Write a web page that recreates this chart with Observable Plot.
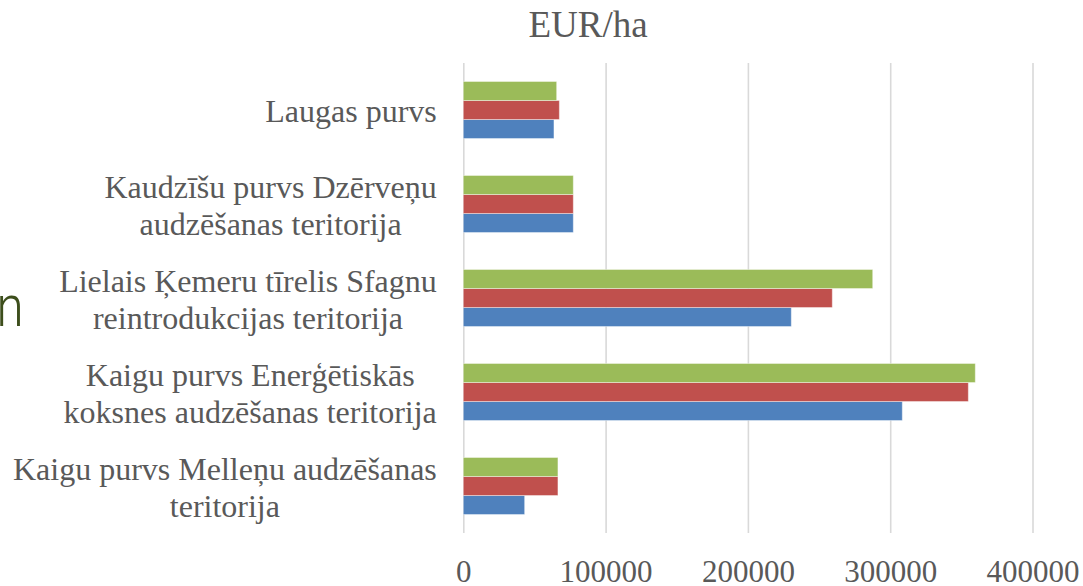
<!DOCTYPE html>
<html>
<head>
<meta charset="utf-8">
<script src="https://cdn.jsdelivr.net/npm/d3@7"></script>
<script src="https://cdn.jsdelivr.net/npm/@observablehq/plot@0.6"></script>
<style>
  html, body { margin: 0; padding: 0; background: #fff; }
  #wrap { position: relative; width: 1083px; height: 586px; overflow: hidden; background: #fff; }
  #title { position: relative; height: 50px; }
  #title span { position: absolute; left: 438px; width: 300px; top: 6px; text-align: center;
    font-family: "Liberation Serif", "Times New Roman", serif; font-size: 37px; line-height: 37px; color: #595959; }
  #chart svg { display: block; }
  #stray { position: absolute; left: 0; top: 0; }
</style>
</head>
<body>
<div id="wrap">
  <div id="title"><span>EUR/ha</span></div>
  <div id="chart"></div>
  <svg id="stray" width="40" height="586"><text x="-4" y="326" font-family="Roboto, 'DejaVu Sans', sans-serif" font-weight="300" font-size="58" fill="#3d4e1c" transform="scale(0.85,1)">n</text></svg>
</div>
<script>
// Categories, top to bottom
const categories = [
  "Laugas purvs",
  "Kaudzīšu purvs Dzērveņu\naudzēšanas teritorija",
  "Lielais Ķemeru tīrelis Sfagnu\nreintrodukcijas teritorija",
  "Kaigu purvs Enerģētiskās\nkoksnes audzēšanas teritorija",
  "Kaigu purvs Melleņu audzēšanas\nteritorija"
];
const seriesNames = ["Sērija 1", "Sērija 2", "Sērija 3"];
const series1 = [63700, 77300, 230500, 308500, 43100];   // blue
const series2 = [67500, 77300, 259300, 354900, 66500];   // red
const series3 = [65600, 77300, 287700, 359800, 66500];   // green
const seriesColors = ["#4F81BD", "#C0504D", "#9BBB59"];
const xTicks = [0, 100000, 200000, 300000, 400000];

const allSeries = [series1, series2, series3];
const data = [];
categories.forEach((c, i) => {
  allSeries.forEach((s, j) => data.push({category: c, series: seriesNames[j], value: s[i]}));
});

const chart = Plot.plot({
  width: 1083,
  height: 536,
  marginTop: 12.5,
  marginBottom: 52.5,
  marginLeft: 463.3,
  marginRight: 50.5,
  style: {fontFamily: "'Liberation Serif', 'Times New Roman', serif", fontSize: "31px", color: "#595959", background: "white"},
  x: {domain: [0, 400000]},
  y: {domain: [seriesNames[2], seriesNames[1], seriesNames[0]], paddingInner: 0, paddingOuter: 0.896, axis: null},
  fy: {domain: categories, padding: 0},
  color: {domain: seriesNames, range: seriesColors},
  marks: [
    Plot.gridX(xTicks, {stroke: "#d9d9d9", strokeOpacity: 1, strokeWidth: 1.6}),
    Plot.barX(data, {x: "value", y: "series", fy: "category", fill: "series", stroke: "#ffffff", strokeOpacity: 0.4, strokeWidth: 1}),
    Plot.axisX(xTicks, {tickSize: 0, tickPadding: 26, tickFormat: d3.format("d"), fontSize: 31, label: null}),
    Plot.axisFy({anchor: "left", tickSize: 0, tickPadding: 27, lineHeight: 1.147, fontSize: 32, label: null})
  ]
});
document.getElementById("chart").appendChild(chart);

// Centre wrapped lines of each category label within its block (right edge kept)
chart.querySelectorAll('[aria-label="fy-axis tick label"] text').forEach(t => {
  const w = t.getBBox().width;
  t.setAttribute("text-anchor", "middle");
  const spans = t.querySelectorAll("tspan");
  if (spans.length) spans.forEach(s => s.setAttribute("x", -w / 2));
  else t.setAttribute("x", -w / 2);
});
</script>
</body>
</html>
